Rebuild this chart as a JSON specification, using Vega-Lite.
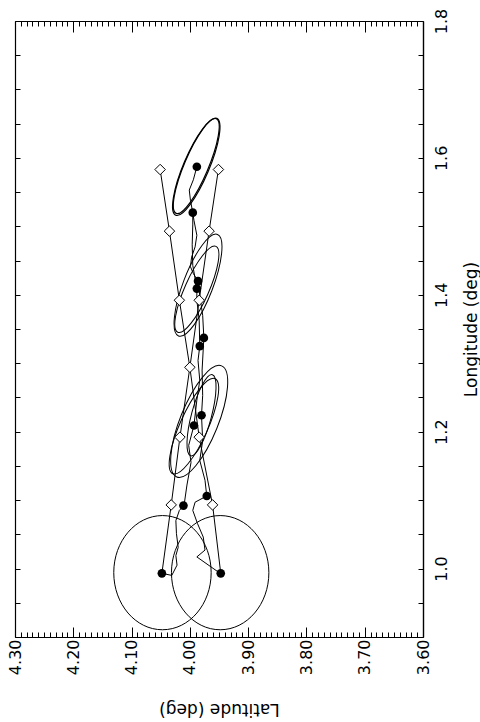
{
  "$schema": "https://vega.github.io/schema/vega-lite/v6.json",
  "width": 408,
  "height": 616,
  "padding": {"left": 15, "top": 21, "right": 57, "bottom": 85},
  "autosize": {"type": "none"},
  "background": "white",
  "config": {"view": {"stroke": null}, "font": "DejaVu Sans"},
  "datasets": {
    "tracks": [
      {"track": "L", "lat": 4.048, "lon": 0.993},
      {"track": "L", "lat": 4.032, "lon": 1.093},
      {"track": "L", "lat": 4.017, "lon": 1.192},
      {"track": "L", "lat": 4.000, "lon": 1.294},
      {"track": "L", "lat": 4.018, "lon": 1.392},
      {"track": "L", "lat": 4.035, "lon": 1.493},
      {"track": "L", "lat": 4.051, "lon": 1.583},
      {"track": "R", "lat": 3.947, "lon": 0.993},
      {"track": "R", "lat": 3.961, "lon": 1.093},
      {"track": "R", "lat": 3.984, "lon": 1.192},
      {"track": "R", "lat": 4.000, "lon": 1.294},
      {"track": "R", "lat": 3.984, "lon": 1.392},
      {"track": "R", "lat": 3.967, "lon": 1.493},
      {"track": "R", "lat": 3.951, "lon": 1.583}
    ],
    "diamonds": [
      {"lat": 4.032, "lon": 1.093}, {"lat": 3.961, "lon": 1.093},
      {"lat": 4.017, "lon": 1.192}, {"lat": 3.984, "lon": 1.192},
      {"lat": 4.000, "lon": 1.294},
      {"lat": 4.018, "lon": 1.392}, {"lat": 3.984, "lon": 1.392},
      {"lat": 4.035, "lon": 1.493}, {"lat": 3.967, "lon": 1.493},
      {"lat": 4.051, "lon": 1.583}, {"lat": 3.951, "lon": 1.583}
    ],
    "dots": [
      {"lat": 4.048, "lon": 0.993}, {"lat": 3.947, "lon": 0.993},
      {"lat": 4.011, "lon": 1.092}, {"lat": 3.971, "lon": 1.106},
      {"lat": 3.993, "lon": 1.209}, {"lat": 3.980, "lon": 1.224},
      {"lat": 3.983, "lon": 1.325}, {"lat": 3.976, "lon": 1.337},
      {"lat": 3.988, "lon": 1.409}, {"lat": 3.986, "lon": 1.420},
      {"lat": 3.995, "lon": 1.520}, {"lat": 3.988, "lon": 1.587}
    ],
    "wiggles": [
      {"path": "W1", "seq": 1, "lat": 4.048, "lon": 0.993},
      {"path": "W1", "seq": 2, "lat": 4.031, "lon": 0.990},
      {"path": "W1", "seq": 3, "lat": 4.022, "lon": 1.005},
      {"path": "W1", "seq": 4, "lat": 4.024, "lon": 1.019},
      {"path": "W1", "seq": 5, "lat": 4.020, "lon": 1.031},
      {"path": "W1", "seq": 6, "lat": 4.023, "lon": 1.051},
      {"path": "W1", "seq": 7, "lat": 4.024, "lon": 1.070},
      {"path": "W1", "seq": 8, "lat": 4.018, "lon": 1.085},
      {"path": "W1", "seq": 9, "lat": 4.010, "lon": 1.092},
      {"path": "W1", "seq": 10, "lat": 4.005, "lon": 1.122},
      {"path": "W1", "seq": 11, "lat": 3.998, "lon": 1.155},
      {"path": "W1", "seq": 12, "lat": 4.002, "lon": 1.180},
      {"path": "W1", "seq": 13, "lat": 3.993, "lon": 1.209},
      {"path": "W1", "seq": 14, "lat": 3.988, "lon": 1.246},
      {"path": "W1", "seq": 15, "lat": 3.983, "lon": 1.275},
      {"path": "W1", "seq": 16, "lat": 3.986, "lon": 1.304},
      {"path": "W1", "seq": 17, "lat": 3.983, "lon": 1.325},
      {"path": "W1", "seq": 18, "lat": 3.984, "lon": 1.363},
      {"path": "W1", "seq": 19, "lat": 3.988, "lon": 1.392},
      {"path": "W1", "seq": 20, "lat": 3.988, "lon": 1.409},
      {"path": "W1", "seq": 21, "lat": 3.995, "lon": 1.443},
      {"path": "W1", "seq": 22, "lat": 3.996, "lon": 1.473},
      {"path": "W1", "seq": 23, "lat": 3.995, "lon": 1.502},
      {"path": "W1", "seq": 24, "lat": 3.995, "lon": 1.520},
      {"path": "W2", "seq": 1, "lat": 3.948, "lon": 0.993},
      {"path": "W2", "seq": 2, "lat": 3.988, "lon": 1.017},
      {"path": "W2", "seq": 3, "lat": 3.974, "lon": 1.027},
      {"path": "W2", "seq": 4, "lat": 3.977, "lon": 1.046},
      {"path": "W2", "seq": 5, "lat": 3.987, "lon": 1.066},
      {"path": "W2", "seq": 6, "lat": 3.995, "lon": 1.085},
      {"path": "W2", "seq": 7, "lat": 3.991, "lon": 1.097},
      {"path": "W2", "seq": 8, "lat": 3.971, "lon": 1.106},
      {"path": "W2", "seq": 9, "lat": 3.974, "lon": 1.129},
      {"path": "W2", "seq": 10, "lat": 3.983, "lon": 1.158},
      {"path": "W2", "seq": 11, "lat": 3.978, "lon": 1.187},
      {"path": "W2", "seq": 12, "lat": 3.980, "lon": 1.224},
      {"path": "W2", "seq": 13, "lat": 3.978, "lon": 1.253},
      {"path": "W2", "seq": 14, "lat": 3.979, "lon": 1.290},
      {"path": "W2", "seq": 15, "lat": 3.976, "lon": 1.337},
      {"path": "W2", "seq": 16, "lat": 3.978, "lon": 1.370},
      {"path": "W2", "seq": 17, "lat": 3.983, "lon": 1.399},
      {"path": "W2", "seq": 18, "lat": 3.986, "lon": 1.420},
      {"path": "W2", "seq": 19, "lat": 3.994, "lon": 1.431},
      {"path": "W2", "seq": 20, "lat": 3.999, "lon": 1.441},
      {"path": "W2", "seq": 21, "lat": 3.997, "lon": 1.455},
      {"path": "W2", "seq": 22, "lat": 3.991, "lon": 1.470},
      {"path": "W2", "seq": 23, "lat": 3.988, "lon": 1.487},
      {"path": "W2", "seq": 24, "lat": 3.993, "lon": 1.509},
      {"path": "W2", "seq": 25, "lat": 3.995, "lon": 1.520},
      {"path": "W2", "seq": 26, "lat": 3.999, "lon": 1.538},
      {"path": "W2", "seq": 27, "lat": 4.001, "lon": 1.553},
      {"path": "W2", "seq": 28, "lat": 3.994, "lon": 1.568},
      {"path": "W2", "seq": 29, "lat": 3.988, "lon": 1.587}
    ],
    "ellipses": [
      {"id": "E1", "lat": 3.984, "lon": 1.215},
      {"id": "E2", "lat": 3.993, "lon": 1.208},
      {"id": "E3", "lat": 3.980, "lon": 1.224},
      {"id": "E4", "lat": 3.986, "lon": 1.414},
      {"id": "E5", "lat": 3.988, "lon": 1.408},
      {"id": "E6", "lat": 3.989, "lon": 1.588},
      {"id": "E7", "lat": 3.989, "lon": 1.587},
      {"id": "C1", "lat": 4.047, "lon": 0.994},
      {"id": "C2", "lat": 3.948, "lon": 0.994}
    ]
  },
  "encoding": {
    "x": {"field": "lat", "type": "quantitative", "scale": {"domain": [3.6, 4.3], "reverse": true, "nice": false, "zero": false}, "axis": null},
    "y": {"field": "lon", "type": "quantitative", "scale": {"domain": [0.9, 1.8], "nice": false, "zero": false}, "axis": null}
  },
  "layer": [
    {
      "data": {"name": "ellipses"},
      "transform": [{"filter": "datum.id == 'C1' || datum.id == 'C2'"}],
      "mark": {"type": "point", "shape": "M0,-1C0.471,-1,0.853,-0.5523,0.853,0C0.853,0.5523,0.471,1,0,1C-0.471,1,-0.853,0.5523,-0.853,0C-0.853,-0.5523,-0.471,-1,0,-1Z", "size": 13042, "angle": 0, "filled": false, "stroke": "black", "strokeWidth": 1, "opacity": 1}
    },
    {
      "data": {"name": "ellipses"},
      "transform": [{"filter": "datum.id == 'E1'"}],
      "mark": {"type": "point", "shape": "M0,-1C0.175,-1,0.317,-0.5523,0.317,0C0.317,0.5523,0.175,1,0,1C-0.175,1,-0.317,0.5523,-0.317,0C-0.317,-0.5523,-0.175,-1,0,-1Z", "size": 14352, "angle": 22, "filled": false, "stroke": "black", "strokeWidth": 1, "opacity": 1}
    },
    {
      "data": {"name": "ellipses"},
      "transform": [{"filter": "datum.id == 'E2'"}],
      "mark": {"type": "point", "shape": "M0,-1C0.149,-1,0.269,-0.5523,0.269,0C0.269,0.5523,0.149,1,0,1C-0.149,1,-0.269,0.5523,-0.269,0C-0.269,-0.5523,-0.149,-1,0,-1Z", "size": 10816, "angle": 24, "filled": false, "stroke": "black", "strokeWidth": 1, "opacity": 1}
    },
    {
      "data": {"name": "ellipses"},
      "transform": [{"filter": "datum.id == 'E3'"}],
      "mark": {"type": "point", "shape": "M0,-1C0.131,-1,0.238,-0.5523,0.238,0C0.238,0.5523,0.131,1,0,1C-0.131,1,-0.238,0.5523,-0.238,0C-0.238,-0.5523,-0.131,-1,0,-1Z", "size": 7056, "angle": 15, "filled": false, "stroke": "black", "strokeWidth": 1, "opacity": 1}
    },
    {
      "data": {"name": "ellipses"},
      "transform": [{"filter": "datum.id == 'E4'"}],
      "mark": {"type": "point", "shape": "M0,-1C0.151,-1,0.274,-0.5523,0.274,0C0.274,0.5523,0.151,1,0,1C-0.151,1,-0.274,0.5523,-0.274,0C-0.274,-0.5523,-0.151,-1,0,-1Z", "size": 11837, "angle": 21, "filled": false, "stroke": "black", "strokeWidth": 1, "opacity": 1}
    },
    {
      "data": {"name": "ellipses"},
      "transform": [{"filter": "datum.id == 'E5'"}],
      "mark": {"type": "point", "shape": "M0,-1C0.141,-1,0.255,-0.5523,0.255,0C0.255,0.5523,0.141,1,0,1C-0.141,1,-0.255,0.5523,-0.255,0C-0.255,-0.5523,-0.141,-1,0,-1Z", "size": 8836, "angle": 24, "filled": false, "stroke": "black", "strokeWidth": 1, "opacity": 1}
    },
    {
      "data": {"name": "ellipses"},
      "transform": [{"filter": "datum.id == 'E6'"}],
      "mark": {"type": "point", "shape": "M0,-1C0.129,-1,0.233,-0.5523,0.233,0C0.233,0.5523,0.129,1,0,1C-0.129,1,-0.233,0.5523,-0.233,0C-0.233,-0.5523,-0.129,-1,0,-1Z", "size": 10568, "angle": 23, "filled": false, "stroke": "black", "strokeWidth": 1.2, "opacity": 1}
    },
    {
      "data": {"name": "ellipses"},
      "transform": [{"filter": "datum.id == 'E7'"}],
      "mark": {"type": "point", "shape": "M0,-1C0.134,-1,0.243,-0.5523,0.243,0C0.243,0.5523,0.134,1,0,1C-0.134,1,-0.243,0.5523,-0.243,0C-0.243,-0.5523,-0.134,-1,0,-1Z", "size": 11067, "angle": 23, "filled": false, "stroke": "black", "strokeWidth": 1.2, "opacity": 1}
    },
    {
      "data": {"name": "tracks"},
      "mark": {"type": "line", "color": "black", "strokeWidth": 1},
      "encoding": {
        "x": {"field": "lat", "type": "quantitative", "scale": {"domain": [3.6, 4.3], "reverse": true, "nice": false, "zero": false},
          "axis": {"orient": "bottom", "grid": false,
            "values": [3.6,3.61,3.62,3.63,3.64,3.65,3.66,3.67,3.68,3.69,3.7,3.71,3.72,3.73,3.74,3.75,3.76,3.77,3.78,3.79,3.8,3.81,3.82,3.83,3.84,3.85,3.86,3.87,3.88,3.89,3.9,3.91,3.92,3.93,3.94,3.95,3.96,3.97,3.98,3.99,4.0,4.01,4.02,4.03,4.04,4.05,4.06,4.07,4.08,4.09,4.1,4.11,4.12,4.13,4.14,4.15,4.16,4.17,4.18,4.19,4.2,4.21,4.22,4.23,4.24,4.25,4.26,4.27,4.28,4.29,4.3],
            "labelExpr": "abs(datum.value*10 - round(datum.value*10)) < 0.001 ? format(datum.value, '.2f') : ''",
            "labelAngle": 270, "labelAlign": "right", "labelBaseline": "middle",
            "labelFont": "DejaVu Sans", "labelFontSize": 16, "labelColor": "black",
            "labelPadding": 12, "labelOverlap": false, "labelFlush": false,
            "tickSize": {"condition": {"test": "abs(datum.value*10 - round(datum.value*10)) < 0.001", "value": -10}, "value": -5},
            "tickColor": "black", "tickWidth": 1,
            "domainColor": "black", "domainWidth": 1.2,
            "title": "Latitude (deg)", "titleAngle": 180, "titleBaseline": "bottom", "titleFont": "DejaVu Sans", "titleFontSize": 17, "titleFontWeight": "normal", "titleColor": "black", "titlePadding": 25}},
        "y": {"field": "lon", "type": "quantitative", "scale": {"domain": [0.9, 1.8], "nice": false, "zero": false},
          "axis": {"orient": "right", "grid": false,
            "values": [0.9,0.95,1.0,1.05,1.1,1.15,1.2,1.25,1.3,1.35,1.4,1.45,1.5,1.55,1.6,1.65,1.7,1.75,1.8],
            "labelExpr": "abs(datum.value*5 - round(datum.value*5)) < 0.001 ? format(datum.value, '.1f') : ''",
            "labelAngle": 270, "labelAlign": "center", "labelBaseline": "top",
            "labelFont": "DejaVu Sans", "labelFontSize": 16, "labelColor": "black",
            "labelPadding": 15, "labelOverlap": false, "labelFlush": false,
            "tickSize": -5, "tickColor": "black", "tickWidth": 1,
            "domainColor": "black", "domainWidth": 1.4,
            "title": "Longitude (deg)", "titleAngle": 270, "titleBaseline": "top", "titleFont": "DejaVu Sans", "titleFontSize": 17, "titleFontWeight": "normal", "titleColor": "black", "titlePadding": 14}},
        "detail": {"field": "track", "type": "nominal"},
        "order": {"field": "lon", "type": "quantitative"}
      }
    },
    {
      "data": {"name": "wiggles"},
      "mark": {"type": "line", "color": "black", "strokeWidth": 1},
      "encoding": {
        "detail": {"field": "path", "type": "nominal"},
        "order": {"field": "seq", "type": "quantitative"}
      }
    },
    {
      "data": {"name": "diamonds"},
      "mark": {"type": "point", "shape": "diamond", "size": 110, "filled": true, "fill": "white", "stroke": "black", "strokeWidth": 1, "opacity": 1}
    },
    {
      "data": {"name": "dots"},
      "mark": {"type": "point", "shape": "circle", "size": 75, "filled": true, "color": "black", "opacity": 1},
      "encoding": {
        "x": {"field": "lat", "type": "quantitative", "scale": {"domain": [3.6, 4.3], "reverse": true, "nice": false, "zero": false},
          "axis": {"orient": "top", "grid": false, "labels": false, "title": null,
            "values": [3.6,3.61,3.62,3.63,3.64,3.65,3.66,3.67,3.68,3.69,3.7,3.71,3.72,3.73,3.74,3.75,3.76,3.77,3.78,3.79,3.8,3.81,3.82,3.83,3.84,3.85,3.86,3.87,3.88,3.89,3.9,3.91,3.92,3.93,3.94,3.95,3.96,3.97,3.98,3.99,4.0,4.01,4.02,4.03,4.04,4.05,4.06,4.07,4.08,4.09,4.1,4.11,4.12,4.13,4.14,4.15,4.16,4.17,4.18,4.19,4.2,4.21,4.22,4.23,4.24,4.25,4.26,4.27,4.28,4.29,4.3],
            "tickSize": {"condition": {"test": "abs(datum.value*10 - round(datum.value*10)) < 0.001", "value": -11}, "value": -5},
            "tickColor": "black", "tickWidth": 1,
            "domainColor": "black", "domainWidth": 1.2}},
        "y": {"field": "lon", "type": "quantitative", "scale": {"domain": [0.9, 1.8], "nice": false, "zero": false},
          "axis": {"orient": "left", "grid": false, "labels": false, "title": null,
            "values": [0.9,0.95,1.0,1.05,1.1,1.15,1.2,1.25,1.3,1.35,1.4,1.45,1.5,1.55,1.6,1.65,1.7,1.75,1.8],
            "tickSize": -5, "tickColor": "black", "tickWidth": 1,
            "domainColor": "black", "domainWidth": 1.2}}
      }
    }
  ],
  "resolve": {"axis": {"x": "independent", "y": "independent"}}
}
